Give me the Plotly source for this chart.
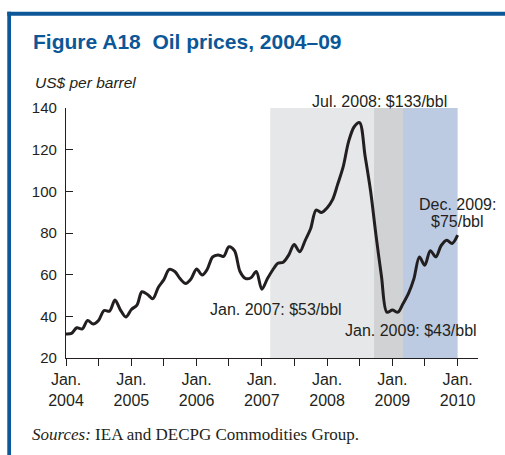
import pandas as pd
import plotly.graph_objects as go

# Monthly average crude oil price, US$ per barrel, Jan 2004 - Jan 2010
months = pd.date_range("2004-01-01", "2010-01-01", freq="MS")
prices = [
    31.5, 31.8, 34.5, 34.0, 38.0, 36.3, 38.0, 42.8, 42.5, 47.8, 43.0, 39.7,   # 2004
    43.3, 45.4, 51.8, 50.5, 48.5, 54.0, 57.5, 62.5, 61.5, 58.0, 55.8, 58.0,   # 2005
    62.7, 59.8, 62.5, 68.5, 69.5, 68.8, 73.4, 71.5, 61.5, 58.2, 58.5, 61.5,   # 2006
    53.0, 58.0, 62.0, 65.5, 66.0, 69.5, 74.5, 71.0, 76.5, 82.0, 91.0, 89.8,   # 2007
    92.0, 96.0, 103.5, 112.0, 124.0, 131.0, 133.0, 117.0, 100.0, 79.0, 59.0, 42.0,  # 2008
    43.0, 42.0, 46.0, 51.0, 58.0, 68.5, 64.5, 71.5, 68.5, 74.0, 76.5, 75.0,   # 2009
    79.0,                                                                      # Jan 2010
]

# Shaded phases of the price cycle
phase_starts = ["2007-02-17", "2008-09-20", "2009-03-01"]
phase_ends = ["2008-09-20", "2009-03-01", "2010-01-01"]
phase_colors = ["#e6e7e8", "#d1d2d4", "#bccae2"]

tick_dates = pd.date_range("2004-01-01", "2010-01-01", freq="6MS")
tick_labels = [f"Jan.<br>{d.year}" if d.month == 1 else "" for d in tick_dates]
y_ticks = [20, 40, 60, 80, 100, 120, 140]

# Callouts: (text, x date, y position, y reference)
callouts = [
    ("Jul. 2008: $133/bbl", "2008-10-21", 1.026, "paper"),
    ("Jan. 2007: $53/bbl", "2007-03-21", 43.4, "y"),
    ("Jan. 2009: $43/bbl", "2009-04-17", 33.3, "y"),
    ("Dec. 2009:", "2010-01-01", 93.5, "y"),
    ("$75/bbl", "2010-01-01", 85.4, "y"),
]

BLUE = "#0b5797"
INK = "#231f20"
SANS = "Liberation Sans, Arial, sans-serif"
SERIF = "Liberation Serif, Times New Roman, serif"

fig = go.Figure()
fig.add_trace(go.Scatter(
    x=months, y=prices, mode="lines",
    line=dict(color=INK, width=3, shape="spline", smoothing=0.9),
    hoverinfo="skip",
))

shapes = []
for s, e, c in zip(phase_starts, phase_ends, phase_colors):
    shapes.append(dict(type="rect", xref="x", yref="y", x0=s, x1=e, y0=20, y1=140,
                       fillcolor=c, line=dict(width=0), layer="below"))

# Blue frame along the top and left edges
shapes.append(dict(type="rect", xref="paper", yref="paper", x0=-0.1425, x1=1.2,
                   y0=1.3692, y1=1.3852, fillcolor=BLUE, line=dict(width=0)))
shapes.append(dict(type="rect", xref="paper", yref="paper", x0=-0.1425, x1=-0.1335,
                   y0=-0.6, y1=1.3852, fillcolor=BLUE, line=dict(width=0)))

annotations = [
    dict(text="<b>Figure A18\u00a0 Oil prices, 2004\u201309</b>", xref="paper", yref="paper",
         x=-0.0857, y=1.266, xanchor="left", yanchor="middle", showarrow=False,
         font=dict(family=SANS, size=21, color=BLUE)),
    dict(text="<i>US$ per barrel</i>", xref="paper", yref="paper",
         x=-0.0794, y=1.102, xanchor="left", yanchor="middle", showarrow=False,
         font=dict(family=SANS, size=15.5, color=INK)),
    dict(text="<i>Sources:</i> IEA and DECPG Commodities Group.", xref="paper", yref="paper",
         x=-0.0874, y=-0.304, xanchor="left", yanchor="middle", showarrow=False,
         font=dict(family=SERIF, size=17, color=INK)),
]
for text, xd, yv, yr in callouts:
    annotations.append(dict(text=text, x=xd, y=yv, xref="x", yref=yr,
                            xanchor="center", yanchor="middle", showarrow=False,
                            font=dict(family=SANS, size=16, color=INK)))

fig.update_layout(
    width=505, height=455,
    margin=dict(l=66, r=27, t=108, b=97),
    paper_bgcolor="white", plot_bgcolor="white",
    showlegend=False,
    shapes=shapes,
    annotations=annotations,
    xaxis=dict(
        type="date", range=["2004-01-01", "2010-04-25"],
        tickmode="array", tickvals=tick_dates, ticktext=tick_labels,
        ticks="outside", ticklen=7, tickwidth=1.3, tickcolor=INK,
        showline=True, linecolor=INK, linewidth=1.3,
        showgrid=False, zeroline=False,
        tickfont=dict(family=SANS, size=16, color=INK),
    ),
    yaxis=dict(
        range=[20, 140], tickvals=y_ticks,
        ticks="inside", ticklen=7, tickwidth=1.3, tickcolor=INK,
        showline=True, linecolor=INK, linewidth=1.3,
        showgrid=False, zeroline=False, ticklabelstandoff=5,
        tickfont=dict(family=SANS, size=15, color=INK),
    ),
)

fig.write_html("out.html")
